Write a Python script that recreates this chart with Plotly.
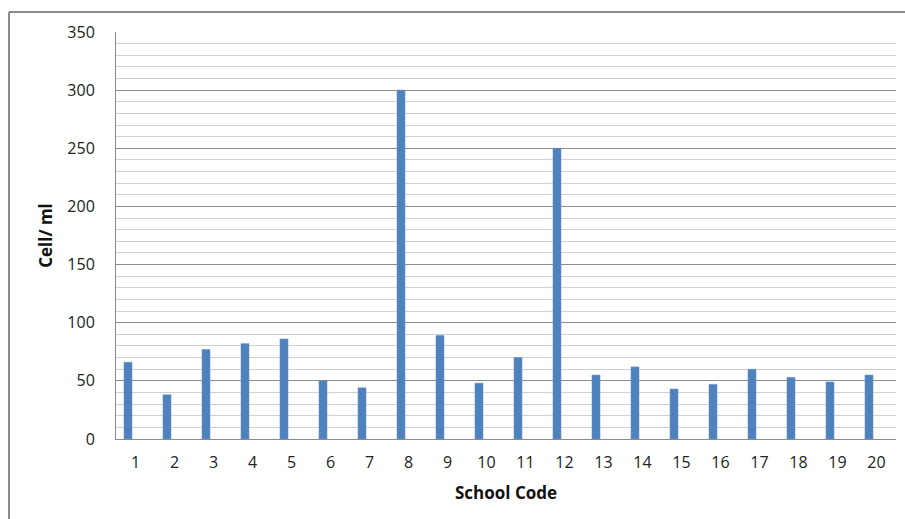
import plotly.graph_objects as go

# School codes and measured cell counts (cells per ml)
school_codes = [str(i) for i in range(1, 21)]
cell_counts = [66, 38, 77, 82, 86, 50, 44, 300, 89, 48,
               70, 250, 55, 62, 43, 47, 60, 53, 49, 55]

y_ticks = [0, 50, 100, 150, 200, 250, 300, 350]

fig = go.Figure()
fig.add_trace(go.Bar(
    x=school_codes,
    y=cell_counts,
    width=0.205,
    offset=-0.295,
    marker=dict(color="#4F81BD", line=dict(color="#6A95C9", width=0.6)),
    hoverinfo="x+y",
))

font_family = "Open Sans, Liberation Sans, sans-serif"

fig.update_layout(
    width=905,
    height=519,
    margin=dict(l=116, r=9, t=32, b=80),
    paper_bgcolor="white",
    plot_bgcolor="white",
    showlegend=False,
    font=dict(family=font_family, size=16, color="#222"),
    xaxis=dict(
        type="category",
        showgrid=False,
        showline=True,
        linecolor="#8c8c8c",
        linewidth=1,
        ticks="",
        ticklabelstandoff=9,
        tickfont=dict(size=16, color="#222"),
        title=dict(text="<b>School Code</b>", font=dict(size=17, color="#111"), standoff=14),
    ),
    yaxis=dict(
        range=[0, 350],
        tickvals=y_ticks,
        showgrid=True,
        gridcolor="#8c8c8c",
        gridwidth=1,
        minor=dict(dtick=10, showgrid=True, gridcolor="#d0d0d0", gridwidth=1),
        showline=True,
        linecolor="#8c8c8c",
        linewidth=1,
        zeroline=False,
        ticks="",
        ticklabelstandoff=17,
        tickfont=dict(size=16, color="#222"),
        title=dict(text="<b>Cell/ ml</b>", font=dict(size=17, color="#111"), standoff=10),
    ),
)

# Outer chart frame (left and top edges)
frame_left = (9 - 116) / 780
frame_top = (439 - 12) / 407
fig.add_shape(type="line", xref="paper", yref="paper",
              x0=frame_left, x1=frame_left, y0=frame_top, y1=-0.3,
              line=dict(color="#8a8a8a", width=2))
fig.add_shape(type="line", xref="paper", yref="paper",
              x0=frame_left, x1=1.05, y0=frame_top, y1=frame_top,
              line=dict(color="#8a8a8a", width=2))

fig.write_html("out.html")
